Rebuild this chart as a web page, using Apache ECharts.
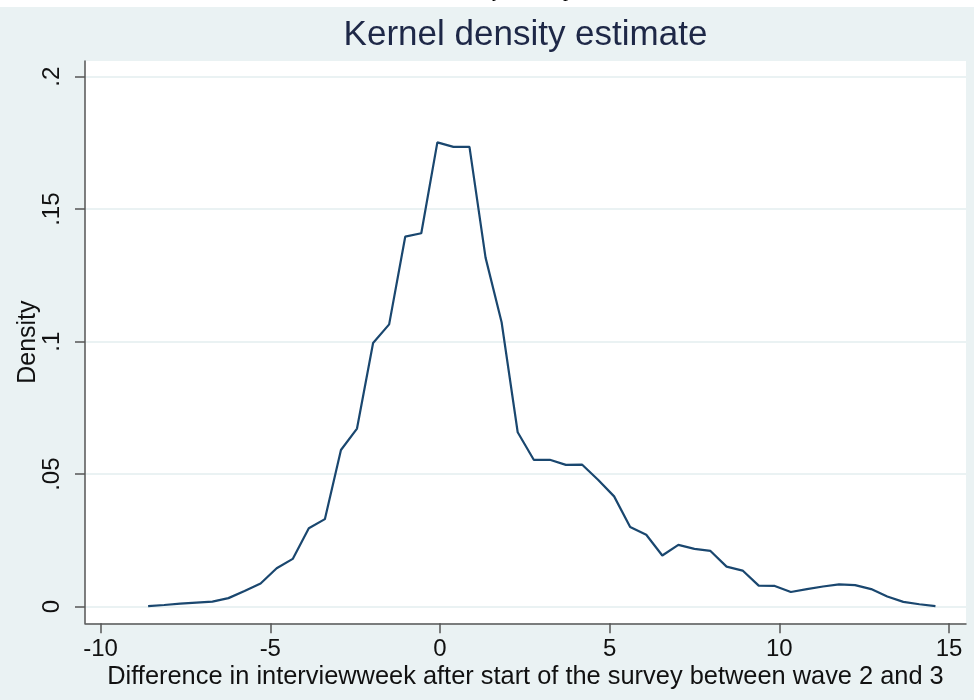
<!DOCTYPE html>
<html>
<head>
<meta charset="utf-8">
<script src="https://cdn.jsdelivr.net/npm/echarts@6/dist/echarts.min.js"></script>
<style>
html,body{margin:0;padding:0;background:#eaf2f3;}
#chart{width:974px;height:700px;}
</style>
</head>
<body>
<div id="chart"></div>
<script>
// Evaluation points of the kernel density estimate
const xPoints = [-8.6, -8.127, -7.653, -7.18, -6.706, -6.233, -5.759, -5.286, -4.812, -4.339,
  -3.865, -3.392, -2.918, -2.445, -1.971, -1.498, -1.024, -0.551, -0.077, 0.396,
  0.869, 1.343, 1.816, 2.29, 2.763, 3.237, 3.71, 4.184, 4.657, 5.131,
  5.604, 6.078, 6.551, 7.024, 7.498, 7.971, 8.445, 8.918, 9.392, 9.865,
  10.339, 10.812, 11.286, 11.759, 12.233, 12.706, 13.18, 13.653, 14.127, 14.6];
const densityValues = [0.0002, 0.0006, 0.0011, 0.0015, 0.0019, 0.0032, 0.0059, 0.0087, 0.0145, 0.0180,
  0.0296, 0.0330, 0.0591, 0.0672, 0.0995, 0.1065, 0.1396, 0.1409, 0.1752, 0.1735,
  0.1735, 0.1317, 0.1073, 0.0658, 0.0554, 0.0554, 0.0535, 0.0536, 0.0479, 0.0416,
  0.0300, 0.0271, 0.0193, 0.0233, 0.0218, 0.0210, 0.0151, 0.0136, 0.0079, 0.0078,
  0.0055, 0.0066, 0.0076, 0.0084, 0.0081, 0.0066, 0.0038, 0.0018, 0.0009, 0.0002];
const xTickValues = [-10, -5, 0, 5, 10, 15];
const xTickLabels = ['-10', '-5', '0', '5', '10', '15'];
const yTickValues = [0, 0.05, 0.1, 0.15, 0.2];
const yTickLabels = ['0', '.05', '.1', '.15', '.2'];
const titleText = 'Kernel density estimate';
const xAxisTitle = 'Difference in interviewweek after start of the survey between wave 2 and 3';
const yAxisTitle = 'Density';

const seriesData = xPoints.map((x, i) => [x, densityValues[i]]);
const font = 'Arial, "Liberation Sans", Helvetica, sans-serif';

const chart = echarts.init(document.getElementById('chart'), null, {renderer: 'canvas'});
chart.setOption({
  backgroundColor: '#eaf2f3',
  animation: false,
  grid: {left: 85, right: 8, top: 61, bottom: 76.7, show: true, backgroundColor: '#ffffff', borderWidth: 0},
  graphic: [
    {type: 'rect', left: 0, top: 0, shape: {width: 974, height: 7}, style: {fill: '#ffffff'}, z: 100},
    {type: 'text', x: 497, y: 1, z: 101, style: {text: 'y', font: '20px "Liberation Serif", "Times New Roman", serif', fill: '#000', textAlign: 'center', textVerticalAlign: 'bottom'}},
    {type: 'text', x: 568, y: 1, z: 101, style: {text: 'p', font: '20px "Liberation Serif", "Times New Roman", serif', fill: '#000', textAlign: 'center', textVerticalAlign: 'bottom'}},
    {type: 'text', x: 525.5, y: 35, z: 50, style: {text: titleText, font: '35px ' + font, fill: '#1e2847', textAlign: 'center', textVerticalAlign: 'middle'}}
  ],
  xAxis: {
    type: 'value', min: -10.46, max: 15.5,
    name: xAxisTitle, nameLocation: 'middle', nameGap: 41, nameMoveOverlap: false,
    nameTextStyle: {fontFamily: font, fontSize: 25.4, color: '#111111'},
    axisLine: {show: true, onZero: false, lineStyle: {color: '#555555', width: 1.5}},
    axisTick: {show: true, length: 10, customValues: xTickValues, lineStyle: {color: '#555555', width: 1.5}},
    axisLabel: {customValues: xTickValues, margin: 14, fontFamily: font, fontSize: 24, color: '#111111',
      formatter: v => xTickLabels[xTickValues.indexOf(v)] ?? String(v)},
    splitLine: {show: false}
  },
  yAxis: {
    type: 'value', min: -0.0063, max: 0.2059,
    name: yAxisTitle, nameLocation: 'middle', nameGap: 44, nameRotate: 90, nameMoveOverlap: false,
    nameTextStyle: {fontFamily: font, fontSize: 25, color: '#111111'},
    axisLine: {show: true, onZero: false, lineStyle: {color: '#555555', width: 1.5}},
    axisTick: {show: true, length: 10, customValues: yTickValues, lineStyle: {color: '#555555', width: 1.5}},
    axisLabel: {customValues: yTickValues, rotate: 90, margin: 21, fontFamily: font, fontSize: 24, color: '#111111',
      formatter: v => yTickLabels[yTickValues.indexOf(v)] ?? String(v)},
    splitLine: {show: true, lineStyle: {color: '#eaf2f3', width: 2}}
  },
  series: [{
    type: 'line', data: seriesData, showSymbol: false, smooth: false,
    lineStyle: {color: '#1a476f', width: 2.2}, itemStyle: {color: '#1a476f'}
  }]
});
</script>
</body>
</html>
